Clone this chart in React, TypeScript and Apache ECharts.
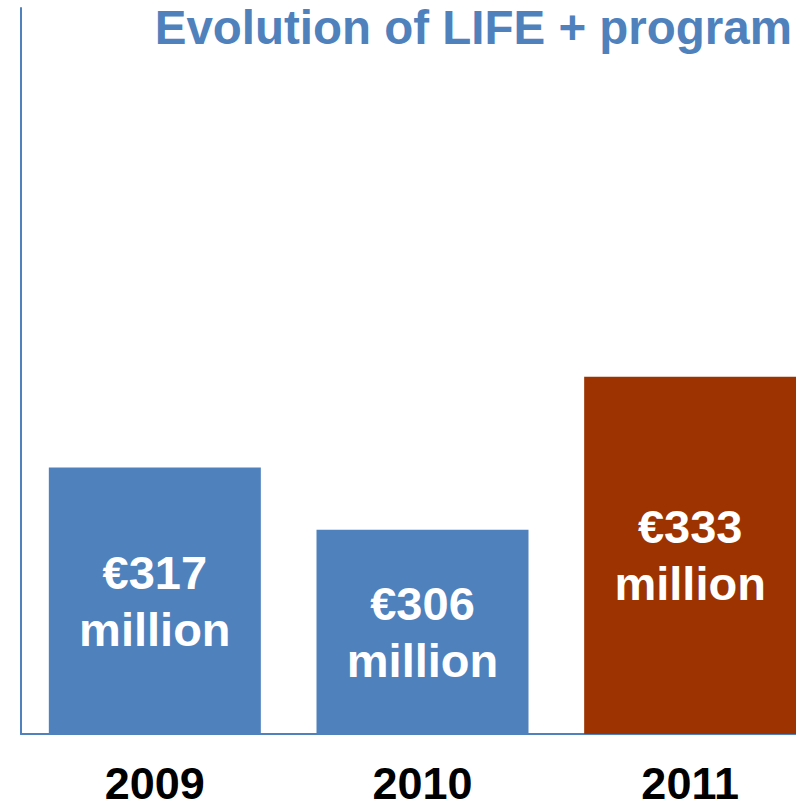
import React, { useEffect, useRef } from "react";
import * as echarts from "echarts";

const years = ["2009", "2010", "2011"];
const budgets = [317, 306, 333];
const barColors = ["#4F81BD", "#4F81BD", "#9C3300"];
const titleText = "Evolution of LIFE + program";

export default function App() {
  const ref = useRef<HTMLDivElement>(null);
  useEffect(() => {
    if (!ref.current) return;
    const chart = echarts.init(ref.current, null, { renderer: "svg" });
    const font = "'Liberation Sans', Arial, sans-serif";
    chart.setOption({
      animation: false,
      backgroundColor: "#ffffff",
      title: {
        text: titleText,
        right: 4,
        top: 5,
        padding: 0,
        textStyle: {
          color: "#4F81BD",
          fontSize: 47.5,
          fontWeight: "bold",
          fontFamily: font,
          lineHeight: 44,
        },
      },
      grid: {
        left: 21,
        top: 8,
        width: 803,
        bottom: 75,
        outerBoundsMode: "none",
        containLabel: false,
      },
      xAxis: {
        type: "category",
        data: years,
        axisLine: { show: true, lineStyle: { color: "#4F81BD", width: 2 } },
        axisTick: { show: false },
        axisLabel: {
          color: "#000000",
          fontSize: 45,
          fontWeight: "bold",
          fontFamily: font,
          lineHeight: 44,
          margin: 27,
        },
      },
      yAxis: {
        type: "value",
        min: 270,
        max: 398,
        axisLine: { show: true, lineStyle: { color: "#4F81BD", width: 2 } },
        axisTick: { show: false },
        axisLabel: { show: false },
        splitLine: { show: false },
      },
      series: [
        {
          type: "bar",
          barWidth: 212,
          data: budgets.map((v, i) => ({ value: v, itemStyle: { color: barColors[i] } })),
          label: {
            show: true,
            position: "inside",
            formatter: (p: any) => `€${p.value}\nmillion`,
            color: "#ffffff",
            fontSize: 47,
            fontWeight: "bold",
            fontFamily: font,
            lineHeight: 57,
          },
        },
      ],
    });
    return () => chart.dispose();
  }, []);
  return (
    <div
      ref={ref}
      style={{ position: "absolute", left: 0, top: 0, width: 796, height: 809 }}
    />
  );
}
